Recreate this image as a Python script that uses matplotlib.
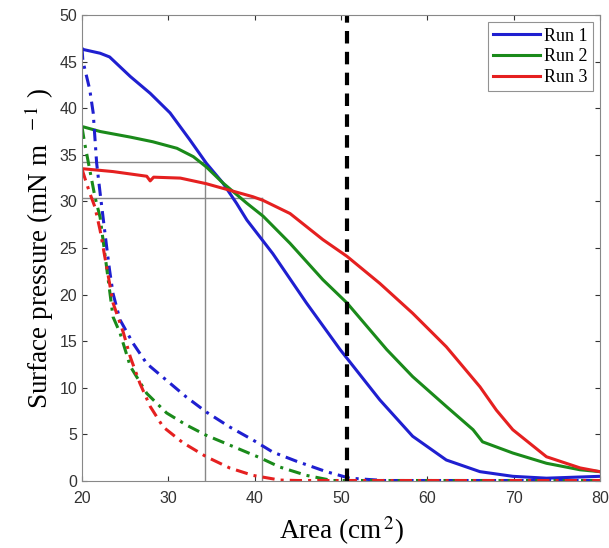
import numpy as np
import matplotlib.pyplot as plt

plt.rcParams['mathtext.fontset'] = 'stix'

# compression isotherms (solid)
area1 = [20, 20.15, 22.1, 23.2, 25.6, 27.9, 30.2, 32.5, 34.4, 36.3, 37.9, 39.1, 42.1, 46.0, 49.9,
         54.5, 58.3, 62.2, 66.1, 69.9, 73.8, 80]
run1 = [46.4, 46.3, 45.9, 45.5, 43.4, 41.6, 39.5, 36.6, 34.1, 32.0, 29.8, 28.0, 24.4, 19.1, 14.1,
        8.7, 4.8, 2.25, 1.0, 0.5, 0.3, 0.5]
area2 = [20, 20.15, 22.1, 25.6, 28.2, 31.0, 32.9, 34.4, 36.3, 39.1, 41.0, 44.1, 47.9, 50.7, 55.3,
         58.3, 62.2, 65.3, 66.4, 69.9, 73.8, 77.7, 80]
run2 = [38.0, 38.0, 37.5, 36.9, 36.4, 35.7, 34.8, 33.7, 32.0, 29.8, 28.4, 25.5, 21.6, 19.1, 14.1,
        11.2, 8.0, 5.5, 4.2, 3.0, 1.9, 1.2, 1.0]
area3 = [20, 20.15, 23.6, 27.5, 27.9, 28.3, 31.4, 34.4, 37.1, 39.8, 41.0, 44.1, 47.9, 50.7, 54.5,
         58.3, 62.2, 66.1, 68.0, 69.9, 73.8, 77.7, 80]
run3 = [33.5, 33.5, 33.2, 32.7, 32.2, 32.6, 32.5, 31.9, 31.2, 30.5, 30.1, 28.7, 25.9, 24.1, 21.2,
        18.0, 14.4, 10.1, 7.6, 5.5, 2.6, 1.4, 1.0]

# dashed curves
area1d = [20, 20.1, 20.9, 21.3, 21.7, 22.1, 22.9, 23.2, 23.6, 24.4, 25.9, 27.5, 29.8, 32.1, 34.4,
          37.1, 39.8, 42.1, 44.9, 48.3, 51, 55, 80]
run1d = [46.5, 45.1, 42.0, 39.5, 34.1, 30.9, 24.8, 22.6, 20.1, 17.3, 14.8, 12.6, 10.8, 9.0, 7.4,
         5.8, 4.4, 3.1, 2.1, 1.0, 0.3, 0.05, 0.05]
area2d = [20, 20.3, 20.9, 21.5, 22.1, 23.6, 24.4, 25.6, 27.5, 29.8, 32.1, 34.4, 37.5, 40.6, 42.9,
          46.0, 49, 80]
run2d = [38.0, 36.3, 33.4, 30.5, 28.3, 17.6, 15.9, 12.3, 9.4, 7.3, 6.0, 4.9, 3.7, 2.5, 1.5,
         0.6, 0.05, 0.05]
area3d = [20, 20.3, 20.9, 21.5, 22.1, 23.6, 24.8, 25.6, 26.7, 27.9, 29.4, 31.7, 34.4, 37.1, 39.8,
          42.9, 45, 80]
run3d = [33.5, 32.6, 30.9, 29.4, 26.9, 19.1, 15.9, 13.3, 10.5, 8.0, 5.8, 4.1, 2.6, 1.4, 0.6,
         0.1, 0.05, 0.05]

# guide lines
ha, hb = 34.2, 30.4
va, vb = 34.2, 40.9
vmark = 50.75

blue, green, red = '#1f1fd0', '#1a8a1a', '#e52020'
dashdot = (0, (4, 2, 1, 2))

fig = plt.figure(figsize=(6.09, 5.48), dpi=100)
ax = fig.add_axes([0.1346, 0.1223, 0.8506, 0.8503])

ax.plot([20, va], [ha, ha], color='#888888', lw=1)
ax.plot([20, vb], [hb, hb], color='#888888', lw=1)
ax.plot([va, va], [0, ha], color='#888888', lw=1)
ax.plot([vb, vb], [0, hb], color='#888888', lw=1)

ax.plot(area1, run1, color=blue, lw=2.2, label='Run 1')
ax.plot(area2, run2, color=green, lw=2.2, label='Run 2')
ax.plot(area3, run3, color=red, lw=2.2, label='Run 3')
ax.plot(area1d, run1d, color=blue, lw=2.2, ls=dashdot)
ax.plot(area2d, run2d, color=green, lw=2.2, ls=dashdot)
ax.plot(area3d, run3d, color=red, lw=2.2, ls=dashdot)

ax.plot([vmark, vmark], [0, 50], color='black', lw=3, ls=(0, (3, 2)))

ax.set_xlim(20, 80)
ax.set_ylim(0, 50)
ax.set_xticks(range(20, 81, 10))
ax.set_yticks(range(0, 51, 5))
ax.tick_params(direction='in', top=True, right=True, labelsize=11.5, colors='#333333')
ax.tick_params(axis='x', pad=7)
for lab in ax.get_xticklabels() + ax.get_yticklabels():
    lab.set_family('Liberation Sans')
for s in ax.spines.values():
    s.set_color('#888888')

ax.set_xlabel('Area (cm$^{\\,2}$)', family='Liberation Serif', fontsize=19.5, labelpad=6)
ax.set_ylabel('Surface pressure (mN m $^{\\;-1}$ )', family='Liberation Serif', fontsize=19.5,
              labelpad=2)

leg = ax.legend(loc='upper right', prop={'family': 'Liberation Serif', 'size': 13},
                fancybox=False, edgecolor='#777777', borderaxespad=0.4,
                handlelength=2.6, handletextpad=0.2, borderpad=0.3, labelspacing=0.2)
leg.get_frame().set_linewidth(0.8)

plt.savefig('out.png', dpi=100)
